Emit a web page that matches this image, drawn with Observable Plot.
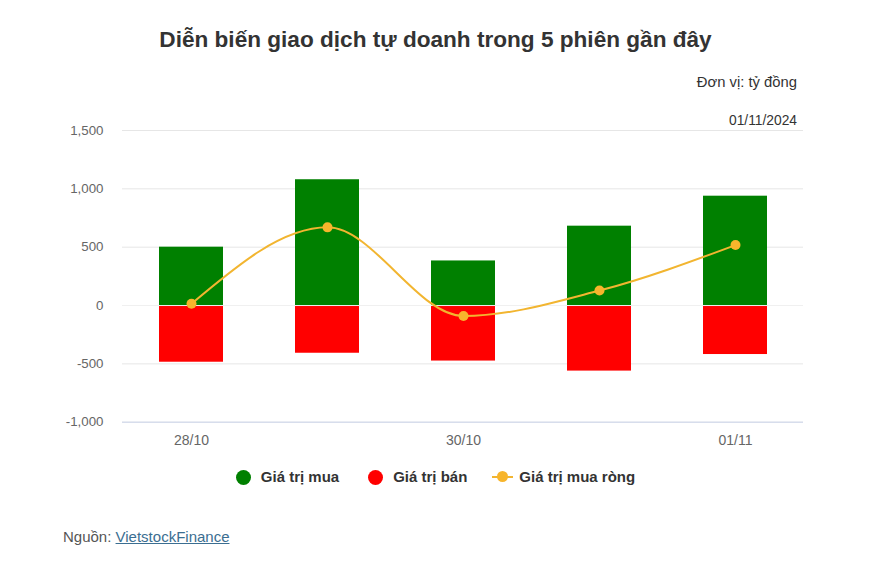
<!DOCTYPE html>
<html><head><meta charset="utf-8">
<script src="https://cdn.jsdelivr.net/npm/d3@7"></script>
<script src="https://cdn.jsdelivr.net/npm/@observablehq/plot@0.6"></script>
<style>
body{margin:0;background:#fff;font-family:"Liberation Sans",Arial,sans-serif;}
#wrap{position:relative;width:871px;height:587px;overflow:hidden;}
.abs{position:absolute;white-space:nowrap;}
#chart{position:absolute;left:0;top:95px;}
.sym{display:inline-block;}
</style></head><body><div id="wrap">
<div id="chart"></div>
<div class="abs" style="left:0;width:871px;text-align:center;top:26px;font-size:22.6px;line-height:28px;font-weight:bold;color:#333;">Diễn biến giao dịch tự doanh trong 5 phiên gần đây</div>
<div class="abs" style="right:74px;top:73px;font-size:14.8px;line-height:18px;color:#333;">Đơn vị: tỷ đồng</div>
<div class="abs" style="right:74px;top:113px;font-size:13.8px;line-height:16px;color:#333;">01/11/2024</div>
<div class="abs" style="left:0;width:871px;top:468px;display:flex;justify-content:center;align-items:center;font-size:15px;font-weight:bold;color:#333;line-height:18px;">
  <span class="sym" style="width:15px;height:15px;border-radius:50%;background:#008000;margin-right:10px"></span><span>Giá trị mua</span>
  <span class="sym" style="width:15px;height:15px;border-radius:50%;background:#ff0000;margin-left:29px;margin-right:10px"></span><span>Giá trị bán</span>
  <span class="sym" style="position:relative;width:21px;height:2px;background:#f2b530;margin-left:25px;margin-right:6px"><span style="position:absolute;left:5px;top:-5px;width:11px;height:11px;border-radius:50%;background:#f7b52c"></span></span><span>Giá trị mua ròng</span>
</div>
<div class="abs" style="left:63px;top:528px;font-size:15px;line-height:18px;color:#555;">Nguồn: <a href="#" style="color:#3b6e91;text-decoration:underline;">VietstockFinance</a></div>
</div>
<script>
const dates = ["28/10","29/10","30/10","31/10","01/11"];
const buyValues = [500, 1078, 382, 680, 937];
const sellValues = [-486, -409, -476, -562, -420];
const netValues = [15, 670, -90, 128, 518];
const yTicks = [-1000, -500, 0, 500, 1000, 1500];
const xTickLabels = ["28/10", "30/10", "01/11"];

const rows = dates.map((d, i) => ({date: d, buy: buyValues[i], sell: sellValues[i], net: netValues[i]}));
const fmt = d => (d < 0 ? "-" : "") + d3.format(",")(Math.abs(d));

const chart = Plot.plot({
  width: 871,
  height: 360,
  marginLeft: 122,
  marginRight: 68,
  marginTop: 35,
  marginBottom: 33.3,
  style: {fontFamily: "'Liberation Sans', Arial, sans-serif", fontSize: "13.3px", color: "#666", background: "transparent"},
  x: {type: "band", domain: dates, paddingInner: 0.53, paddingOuter: 0.265, axis: null},
  y: {domain: [-1000, 1500], axis: null},
  marks: [
    Plot.ruleY(yTicks, {stroke: "#e6e6e6", strokeWidth: 1}),
    Plot.ruleY([-1000], {stroke: "#ccd6eb", strokeWidth: 1}),
    Plot.barY(rows, {x: "date", y1: d => 0, y2: "buy", fill: "#008000"}),
    Plot.barY(rows, {x: "date", y1: d => 0, y2: "sell", fill: "#ff0000"}),
    Plot.ruleY([0], {stroke: "#f0f0f0", strokeWidth: 1}),
    Plot.line(rows, {x: "date", y: "net", stroke: "#f2b530", strokeWidth: 2, curve: "monotone-x"}),
    Plot.dot(rows, {x: "date", y: "net", r: 5, fill: "#f7b52c", stroke: "none"}),
    Plot.axisY(yTicks, {tickSize: 0, tickPadding: 19, tickFormat: fmt, fill: "#666", label: null}),
    Plot.axisX(xTickLabels, {tickSize: 0, tickPadding: 13, fill: "#666", label: null, fontSize: 14})
  ]
});
document.getElementById("chart").appendChild(chart);
</script>
</body></html>
